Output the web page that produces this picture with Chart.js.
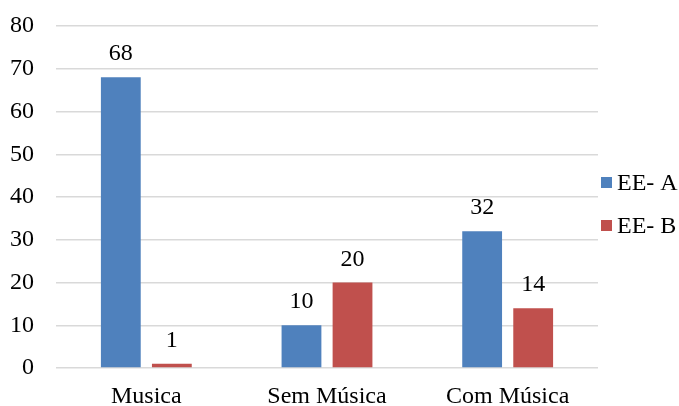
<!DOCTYPE html>
<html>
<head>
<meta charset="utf-8">
<script src="https://cdn.jsdelivr.net/npm/chart.js@4/dist/chart.umd.min.js"></script>
<style>
  html, body { margin: 0; padding: 0; background: #fff; }
  #wrap { width: 679px; height: 406px; position: relative; }
</style>
</head>
<body>
<div id="wrap"><canvas id="c"></canvas></div>
<script>
const categories = ['Musica', 'Sem Música', 'Com Música'];
const seriesA = [68, 10, 32];
const seriesB = [1, 20, 14];
const seriesNames = ['EE- A', 'EE- B'];
const seriesColors = ['#4F81BD', '#C0504D'];
const yTicks = [0, 10, 20, 30, 40, 50, 60, 70, 80];

const serif = "'Liberation Serif', 'Times New Roman', serif";
const FONT_PX = 24;

// Writes each bar's value just above its top
const valueLabels = {
  id: 'valueLabels',
  afterDatasetsDraw(chart) {
    const ctx = chart.ctx;
    ctx.save();
    ctx.font = FONT_PX + 'px ' + serif;
    ctx.fillStyle = '#000';
    ctx.textAlign = 'center';
    ctx.textBaseline = 'alphabetic';
    chart.data.datasets.forEach((ds, i) => {
      chart.getDatasetMeta(i).data.forEach((bar, j) => {
        ctx.fillText(String(ds.data[j]), bar.x, bar.y - 17);
      });
    });
    ctx.restore();
  }
};

// Legend at the right of the plot: a small square and the series name per row
const sideLegend = {
  id: 'sideLegend',
  afterDraw(chart) {
    const ctx = chart.ctx;
    const area = chart.chartArea;
    const mid = (area.top + area.bottom) / 2 + 7;
    const rowGap = 43;
    ctx.save();
    ctx.font = FONT_PX + 'px ' + serif;
    ctx.textBaseline = 'middle';
    ctx.textAlign = 'left';
    chart.data.datasets.forEach((ds, i) => {
      const y = mid + (i - (chart.data.datasets.length - 1) / 2) * rowGap;
      ctx.fillStyle = ds.backgroundColor;
      ctx.fillRect(area.right + 3, y - 5.5, 11, 11);
      ctx.fillStyle = '#000';
      ctx.fillText(ds.label, area.right + 19, y + 1);
    });
    ctx.restore();
  }
};

new Chart(document.getElementById('c'), {
  type: 'bar',
  data: {
    labels: categories,
    datasets: seriesNames.map((name, i) => ({
      label: name,
      data: i === 0 ? seriesA : seriesB,
      backgroundColor: seriesColors[i]
    }))
  },
  options: {
    responsive: true,
    maintainAspectRatio: false,
    animation: false,
    layout: { padding: { top: 26, left: 0, right: 81, bottom: 0 } },
    datasets: { bar: { categoryPercentage: 0.565, barPercentage: 0.78 } },
    plugins: {
      tooltip: { enabled: false },
      legend: { display: false }
    },
    scales: {
      x: {
        afterFit(scale) {
          scale.height = 38;
          scale.paddingLeft = 0;
          scale.paddingRight = 0;
        },
        grid: { display: false },
        border: { display: false },
        ticks: { color: '#000', font: { family: serif, size: FONT_PX }, padding: 6 }
      },
      y: {
        min: 0, max: 80,
        afterFit(scale) {
          scale.width = 56;
          scale.paddingTop = 0;
          scale.paddingBottom = 0;
        },
        afterBuildTicks(scale) { scale.ticks = yTicks.map(v => ({ value: v })); },
        grid: { color: '#D9D9D9', lineWidth: 1.5, drawTicks: false },
        border: { display: false },
        ticks: { color: '#000', font: { family: serif, size: FONT_PX }, padding: 22 }
      }
    }
  },
  plugins: [valueLabels, sideLegend]
});
</script>
</body>
</html>
